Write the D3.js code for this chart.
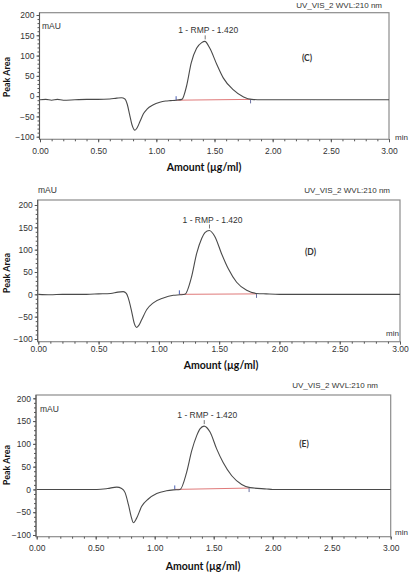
<!DOCTYPE html>
<html>
<head>
<meta charset="utf-8">
<script src="https://cdn.jsdelivr.net/npm/d3@7"></script>
<style>
  body { margin: 0; background: #fff; }
  svg { display: block; }
  .tick text { font-family: "Liberation Sans", Arial, sans-serif; font-size: 8.5px; fill: #333; }
  .domain { stroke: #555; }
  .tick line { stroke: #555; }
</style>
</head>
<body>
<div id="wrapper"></div>
<script>
// chromatogram traces, [time (min), signal (mAU)]
const traceC = [
  [0.00, -9], [0.05, -8], [0.10, -10], [0.15, -8], [0.20, -10], [0.30, -9], [0.40, -8],
  [0.50, -8], [0.60, -7], [0.66, -5], [0.70, -4], [0.73, -7], [0.75, -20], [0.77, -45],
  [0.79, -70], [0.816, -84], [0.835, -78], [0.86, -62], [0.89, -43], [0.92, -32],
  [0.97, -22], [1.03, -15], [1.08, -12], [1.12, -11], [1.17, -10], [1.22, -8],
  [1.26, 25], [1.30, 82], [1.346, 118], [1.39, 132], [1.417, 135], [1.46, 118],
  [1.52, 78], [1.575, 45], [1.66, 16], [1.75, -2], [1.82, -8], [1.90, -9],
  [2.00, -9], [2.50, -9], [3.00, -9]
]
const traceD = [
  [0.00, 0], [0.10, -1], [0.20, 0], [0.30, 0], [0.40, 0], [0.50, 1], [0.60, 2],
  [0.66, 5], [0.705, 6], [0.73, 2], [0.746, -8], [0.774, -38], [0.796, -65],
  [0.816, -74], [0.835, -69], [0.857, -57], [0.90, -34], [0.954, -19], [1.037, -8],
  [1.12, -2], [1.175, -1], [1.216, 0], [1.27, 38], [1.313, 91], [1.355, 125],
  [1.382, 138], [1.418, 143], [1.465, 129], [1.52, 91], [1.576, 57], [1.645, 27],
  [1.728, 9], [1.81, 2], [1.89, 1], [2.00, 0], [2.50, 0], [3.00, 0]
]
const traceE = [
  [0.00, 0], [0.10, 0], [0.20, 0], [0.30, 0], [0.40, 0], [0.51, 0], [0.60, 2],
  [0.678, 5], [0.72, 2], [0.749, -7], [0.777, -33], [0.80, -59], [0.819, -73],
  [0.847, -63], [0.89, -37], [0.946, -21], [1.017, -9], [1.10, -3], [1.158, -1],
  [1.215, 0], [1.27, 37], [1.314, 85], [1.356, 118], [1.384, 133], [1.418, 139],
  [1.469, 126], [1.525, 89], [1.58, 59], [1.653, 30], [1.737, 11], [1.808, 4],
  [1.95, 1], [2.00, 0], [2.50, 0], [3.00, 0]
]

// integration marks: [start, end] time and baseline values
const integC = [[1.17, -10], [1.81, -8]]
const integD = [[1.17, 0], [1.81, 1]]
const integE = [[1.17, 0], [1.80, 3]]

const xTicks = [0, 0.5, 1, 1.5, 2, 2.5, 3]
const yTicks = [-100, -50, 0, 50, 100, 150, 200]
const panelNames = ["(C)", "(D)", "(E)"]
const peakLabel = "1 - RMP - 1.420"
const peakTime = 1.42
const detectorLabel = "UV_VIS_2 WVL:210 nm"
const yUnit = "mAU"
const xUnit = "min"
const yTitle = "Peak Area"
const xTitle = "Amount (µg/ml)"

// layout of each panel in the page
const panels = [
  { trace: traceC, integ: integC, name: panelNames[0],
    box: [39.5, 12.7, 389, 139.3], x0: 40, x3: 389, y200: 15, yNeg: 136.7,
    tickY: 154, titleX: 204, titleY: 171, detX: 382, detY: 8,
    unit: { x: 42, y: 29, anchor: "start" }, min: { x: 395, y: 140, anchor: "start" },
    peakY: 33, nameX: 307, nameY: 61, axisTitleY: 77 },
  { trace: traceD, integ: integD, name: panelNames[1],
    box: [37.7, 200, 400, 341.7], x0: 38.3, x3: 400, y200: 205, yNeg: 339,
    tickY: 351.5, titleX: 221, titleY: 369, detX: 390, detY: 193,
    unit: { x: 38, y: 193, anchor: "start" }, min: { x: 399, y: 336, anchor: "end" },
    peakY: 223, nameX: 310.5, nameY: 255, axisTitleY: 273 },
  { trace: traceE, integ: integE, name: panelNames[2],
    box: [36, 395, 390.7, 536.7], x0: 36.7, x3: 390.7, y200: 398.3, yNeg: 535,
    tickY: 551, titleX: 203, titleY: 569.5, detX: 378, detY: 388,
    unit: { x: 40, y: 412, anchor: "start" }, min: { x: 395, y: 534.5, anchor: "start" },
    peakY: 418, nameX: 304, nameY: 447, axisTitleY: 465 }
]

const width = 412
const height = 573

const svg = d3.select("#wrapper")
  .append("svg")
    .attr("width", width)
    .attr("height", height)

panels.forEach(p => drawPanel(p))

function drawPanel(p) {
  const g = svg.append("g")

  const xScale = d3.scaleLinear()
    .domain([0, 3])
    .range([p.x0, p.x3])

  const yScale = d3.scaleLinear()
    .domain([-100, 200])
    .range([p.yNeg, p.y200])

  // frame
  g.append("rect")
    .attr("x", p.box[0])
    .attr("y", p.box[1])
    .attr("width", p.box[2] - p.box[0])
    .attr("height", p.box[3] - p.box[1])
    .attr("fill", "none")
    .attr("stroke", "#8c8c8c")
    .attr("stroke-width", 1.2)

  // y axis, minor then major ticks
  const yMinor = g.append("g")
    .attr("transform", `translate(${p.box[0]},0)`)
    .call(d3.axisLeft(yScale).tickValues(d3.range(-100, 201, 10)).tickSize(2).tickFormat(""))
  yMinor.select(".domain").remove()

  const yAxis = g.append("g")
    .attr("transform", `translate(${p.box[0]},0)`)
    .call(d3.axisLeft(yScale).tickValues(yTicks).tickSize(3).tickPadding(2).tickFormat(d3.format("d")))
  yAxis.select(".domain")
    .attr("d", `M0,${p.box[1]}V${p.box[3]}`)
  yAxis.selectAll(".tick text").attr("dy", "0.32em")

  // x axis
  const xMinor = g.append("g")
    .attr("transform", `translate(0,${p.box[3]})`)
    .call(d3.axisBottom(xScale).tickValues(d3.range(0, 3.001, 0.1)).tickSize(2).tickFormat(""))
  xMinor.select(".domain").remove()

  const xAxis = g.append("g")
    .attr("transform", `translate(0,${p.box[3]})`)
    .call(d3.axisBottom(xScale).tickValues(xTicks).tickSize(3).tickFormat(d3.format(".2f")))
  xAxis.select(".domain").remove()
  xAxis.selectAll(".tick text")
    .attr("y", 0)
    .attr("dy", 0)
    .attr("transform", `translate(0,${p.tickY - p.box[3]})`)

  // integration baseline
  g.append("line")
    .attr("x1", xScale(p.integ[0][0]))
    .attr("y1", yScale(p.integ[0][1]))
    .attr("x2", xScale(p.integ[1][0]))
    .attr("y2", yScale(p.integ[1][1]))
    .attr("stroke", "#e07a7a")
    .attr("stroke-width", 1)

  g.append("line")
    .attr("x1", xScale(p.integ[0][0]))
    .attr("x2", xScale(p.integ[0][0]))
    .attr("y1", yScale(p.integ[0][1]) - 4)
    .attr("y2", yScale(p.integ[0][1]))
    .attr("stroke", "#4a5fb5")
    .attr("stroke-width", 1)

  g.append("line")
    .attr("x1", xScale(p.integ[1][0]))
    .attr("x2", xScale(p.integ[1][0]))
    .attr("y1", yScale(p.integ[1][1]))
    .attr("y2", yScale(p.integ[1][1]) + 4)
    .attr("stroke", "#6a6fa0")
    .attr("stroke-width", 1)

  // signal
  const line = d3.line()
    .x(d => xScale(d[0]))
    .y(d => yScale(d[1]))
    .curve(d3.curveMonotoneX)

  g.append("path")
    .datum(p.trace)
    .attr("d", line)
    .attr("fill", "none")
    .attr("stroke", "#4a4a4a")
    .attr("stroke-width", 1.1)

  // peak marker
  const peakTop = d3.max(p.trace, d => d[1])
  g.append("line")
    .attr("x1", xScale(peakTime))
    .attr("x2", xScale(peakTime))
    .attr("y1", yScale(peakTop) - 6)
    .attr("y2", yScale(peakTop) - 2)
    .attr("stroke", "#777")

  const text = (x, y, str, anchor, size, weight, family) => g.append("text")
    .attr("x", x)
    .attr("y", y)
    .attr("text-anchor", anchor)
    .attr("font-family", family || "'Liberation Sans', Arial, sans-serif")
    .attr("font-size", size)
    .attr("font-weight", weight || "normal")
    .attr("fill", "#333")
    .text(str)

  text(xScale(peakTime) + 3, p.peakY, peakLabel, "middle", 8.5)
  text(p.detX, p.detY, detectorLabel, "end", 8)
  text(p.unit.x, p.unit.y, yUnit, p.unit.anchor, 8.5)
  text(p.min.x, p.min.y, xUnit, p.min.anchor, 8)
  text(p.nameX, p.nameY, p.name, "middle", 8.5, "bold", "Lato, sans-serif")
  text(p.titleX, p.titleY, xTitle, "middle", 10.5, "bold", "Lato, sans-serif").attr("fill", "#111")
  text(0, 0, yTitle, "middle", 9, "bold", "Lato, sans-serif")
    .attr("fill", "#111")
    .attr("transform", `translate(10,${p.axisTitleY}) rotate(-90)`)
}
</script>
</body>
</html>
